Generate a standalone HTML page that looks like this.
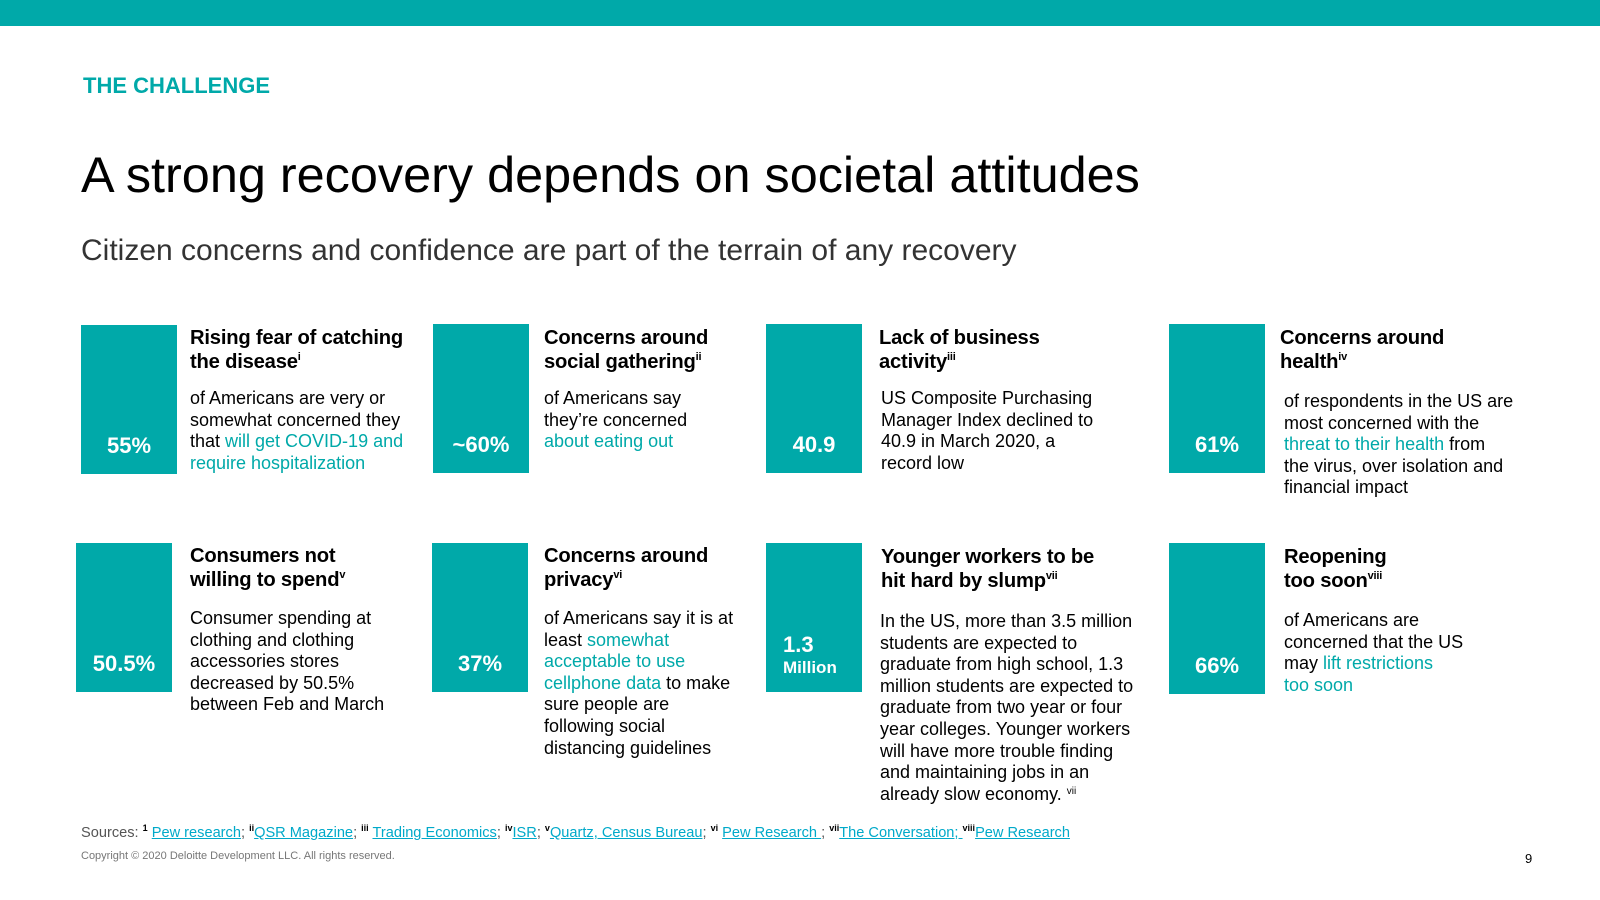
<!DOCTYPE html>
<html><head><meta charset="utf-8"><style>
*{margin:0;padding:0;box-sizing:border-box}
body{width:1600px;height:900px;position:relative;background:#fff;font-family:"Liberation Sans",sans-serif;color:#000;overflow:hidden}
.abs{position:absolute}
.t{color:#00a9a9}
.box{position:absolute;background:#00a9a9;width:96px;height:149px;color:#fff;font-weight:bold;font-size:22px;text-align:center}
.box span{position:absolute;left:0;right:0;bottom:15px}
.h{position:absolute;font-weight:bold;font-size:20.2px;line-height:24px;white-space:nowrap;letter-spacing:-0.2px}
.h sup{font-size:11px;font-weight:bold;vertical-align:8px;line-height:0}
.b{position:absolute;font-size:18px;line-height:21.6px;white-space:nowrap}
.src{font-size:14.6px;color:#555}
.src a{color:#00a9c9;text-decoration:underline}
.src sup{font-size:9px;color:#000;font-weight:bold;vertical-align:6px;line-height:0}
</style></head><body>
<div class="abs" style="left:0;top:0;width:1600px;height:26px;background:#00a9a9"></div>
<div class="abs t" style="left:83px;top:73px;font-size:22px;font-weight:bold">THE CHALLENGE</div>
<div class="abs" style="left:81px;top:145px;font-size:50.4px;white-space:nowrap">A strong recovery depends on societal attitudes</div>
<div class="abs" style="left:81px;top:234px;font-size:30px;color:#333;white-space:nowrap">Citizen concerns and confidence are part of the terrain of any recovery</div>

<div class="box" style="left:81px;top:325px"><span>55%</span></div>
<div class="h" style="left:190px;top:326px">Rising fear of catching<br>the disease<sup>i</sup></div>
<div class="b" style="left:190px;top:388px">of Americans are very or<br>somewhat concerned they<br>that <span class="t">will get COVID-19 and</span><br><span class="t">require hospitalization</span></div>

<div class="box" style="left:433px;top:324px"><span>~60%</span></div>
<div class="h" style="left:544px;top:326px">Concerns around<br>social gathering<sup>ii</sup></div>
<div class="b" style="left:544px;top:388px">of Americans say<br>they’re concerned<br><span class="t">about eating out</span></div>

<div class="box" style="left:766px;top:324px"><span>40.9</span></div>
<div class="h" style="left:879px;top:326px">Lack of business<br>activity<sup>iii</sup></div>
<div class="b" style="left:881px;top:388px">US Composite Purchasing<br>Manager Index declined to<br>40.9 in March 2020, a<br>record low</div>

<div class="box" style="left:1169px;top:324px"><span>61%</span></div>
<div class="h" style="left:1280px;top:326px">Concerns around<br>health<sup>iv</sup></div>
<div class="b" style="left:1284px;top:391px">of respondents in the US are<br>most concerned with the<br><span class="t">threat to their health</span> from<br>the virus, over isolation and<br>financial impact</div>

<div class="box" style="left:76px;top:543px"><span>50.5%</span></div>
<div class="h" style="left:190px;top:544px">Consumers not<br>willing to spend<sup>v</sup></div>
<div class="b" style="left:190px;top:608px">Consumer spending at<br>clothing and clothing<br>accessories stores<br>decreased by 50.5%<br>between Feb and March</div>

<div class="box" style="left:432px;top:543px"><span>37%</span></div>
<div class="h" style="left:544px;top:544px">Concerns around<br>privacy<sup>vi</sup></div>
<div class="b" style="left:544px;top:608px">of Americans say it is at<br>least <span class="t">somewhat</span><br><span class="t">acceptable to use</span><br><span class="t">cellphone data</span> to make<br>sure people are<br>following social<br>distancing guidelines</div>

<div class="box" style="left:766px;top:543px;text-align:left"><span style="left:17px;bottom:34px">1.3</span><span style="left:17px;bottom:14px;font-size:17px">Million</span></div>
<div class="h" style="left:881px;top:545px">Younger workers to be<br>hit hard by slump<sup>vii</sup></div>
<div class="b" style="left:880px;top:611px">In the US, more than 3.5 million<br>students are expected to<br>graduate from high school, 1.3<br>million students are expected to<br>graduate from two year or four<br>year colleges. Younger workers<br>will have more trouble finding<br>and maintaining jobs in an<br>already slow economy. <sup style="font-size:10px;vertical-align:6px;line-height:0">vii</sup></div>

<div class="box" style="left:1169px;top:543px;height:151px"><span>66%</span></div>
<div class="h" style="left:1284px;top:545px">Reopening<br>too soon<sup>viii</sup></div>
<div class="b" style="left:1284px;top:610px">of Americans are<br>concerned that the US<br>may <span class="t">lift restrictions</span><br><span class="t">too soon</span></div>

<div class="abs src" style="left:81px;top:825px;white-space:nowrap">Sources: <sup>1</sup> <a>Pew research</a>; <sup>ii</sup><a>QSR Magazine</a>; <sup>iii</sup> <a>Trading Economics</a>; <sup>iv</sup><a>ISR</a>; <sup>v</sup><a>Quartz, Census Bureau</a>; <sup>vi</sup> <a>Pew Research </a>; <sup>vii</sup><a>The Conversation; </a><sup>viii</sup><a>Pew Research</a></div>
<div class="abs" style="left:81px;top:850px;font-size:11px;color:#777">Copyright © 2020 Deloitte Development LLC. All rights reserved.</div>
<div class="abs" style="left:1525px;top:851px;font-size:13px">9</div>
</body></html>
